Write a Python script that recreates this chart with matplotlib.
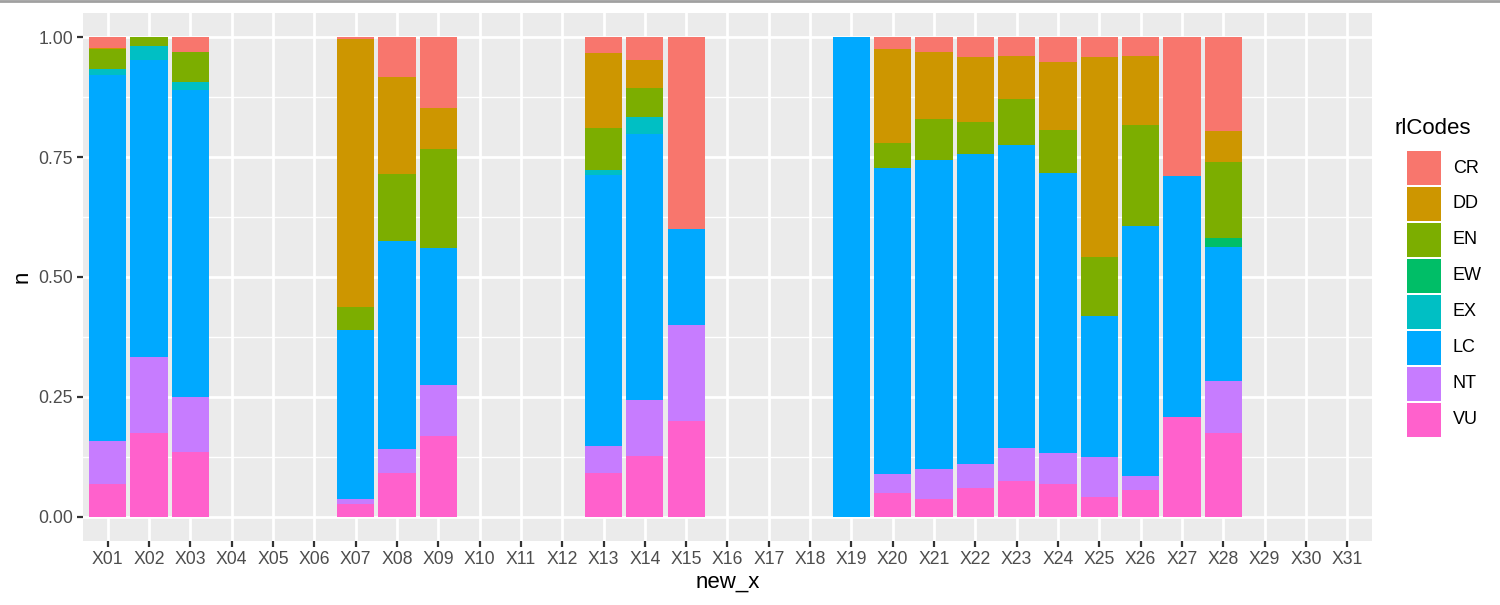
import matplotlib
matplotlib.use("Agg")
import matplotlib.pyplot as plt
import numpy as np
from matplotlib.lines import Line2D
from matplotlib.patches import Rectangle

plt.rcParams["font.family"] = ["Liberation Sans", "DejaVu Sans"]

categories = [f"X{i:02d}" for i in range(1, 32)]
codes = ["CR", "DD", "EN", "EW", "EX", "LC", "NT", "VU"]
colors = ["#F8766D", "#CD9600", "#7CAE00", "#00BE67",
          "#00BFC4", "#00A9FF", "#C77CFF", "#FF61CC"]

# share of each code per category (0 for empty categories)
#          X01   X02   X03  X04 X05 X06  X07   X08   X09  X10 X11 X12  X13   X14   X15  X16 X17 X18 X19  X20   X21   X22   X23   X24   X25   X26   X27   X28  X29 X30 X31
VU = [.069, .174, .135, 0, 0, 0, .027, .091, .169, 0, 0, 0, .091, .128, .201, 0, 0, 0, 0, .049, .037, .060, .074, .069, .041, .056, .209, .174, 0, 0, 0]
NT = [.089, .159, .114, 0, 0, 0, .011, .051, .105, 0, 0, 0, .056, .116, .199, 0, 0, 0, 0, .041, .063, .050, .070, .064, .085, .030, 0, .110, 0, 0, 0]
LC = [.763, .619, .641, 0, 0, 0, .352, .433, .287, 0, 0, 0, .566, .554, .201, 0, 0, 0, 1, .638, .644, .646, .631, .583, .293, .521, .501, .278, 0, 0, 0]
EX = [.012, .030, .016, 0, 0, 0, 0, 0, 0, 0, 0, 0, .009, .036, 0, 0, 0, 0, 0, 0, 0, 0, 0, 0, 0, 0, 0, 0, 0, 0, 0]
EW = [0, 0, 0, 0, 0, 0, 0, 0, 0, 0, 0, 0, 0, 0, 0, 0, 0, 0, 0, 0, 0, 0, 0, 0, 0, 0, 0, .019, 0, 0, 0]
EN = [.041, .018, .063, 0, 0, 0, .047, .140, .205, 0, 0, 0, .088, .059, 0, 0, 0, 0, 0, .052, .085, .066, .095, .090, .122, .210, 0, .158, 0, 0, 0]
DD = [.004, 0, 0, 0, 0, 0, .558, .202, .087, 0, 0, 0, .156, .059, 0, 0, 0, 0, 0, .195, .140, .136, .091, .141, .417, .144, 0, .065, 0, 0, 0]
CR = [.022, 0, .031, 0, 0, 0, .005, .083, .147, 0, 0, 0, .034, .048, .399, 0, 0, 0, 0, .025, .031, .042, .039, .053, .042, .039, .290, .196, 0, 0, 0]

series = {"CR": CR, "DD": DD, "EN": EN, "EW": EW, "EX": EX, "LC": LC, "NT": NT, "VU": VU}

fig = plt.figure(figsize=(15, 6.05), dpi=100)
ax = fig.add_axes([0.0553, 0.1058, 0.9147 - 0.0553, 0.9785 - 0.1058])
ax.set_facecolor("#EBEBEB")

x = np.arange(len(categories))
bottom = np.zeros(len(categories))
# ggplot stacks the last level at the bottom
for code, col in reversed(list(zip(codes, colors))):
    vals = np.array(series[code], dtype=float)
    ax.bar(x, vals, width=0.9, bottom=bottom, color=col, linewidth=0, zorder=3)
    bottom += vals

ax.set_xlim(-0.6, len(categories) - 1 + 0.6)
ax.set_ylim(-0.05, 1.05)
ax.set_xticks(x)
ax.set_xticklabels(categories)
ax.set_yticks([0, 0.25, 0.5, 0.75, 1.0])
ax.set_yticklabels(["0.00", "0.25", "0.50", "0.75", "1.00"])
ax.set_yticks([0.125, 0.375, 0.625, 0.875], minor=True)

ax.grid(which="major", color="white", linewidth=2.0, zorder=1)
ax.grid(which="minor", axis="y", color="white", linewidth=1.0, zorder=1)
ax.tick_params(which="major", colors="#333333", length=4, width=1.6,
               labelsize=12.7, labelcolor="#4D4D4D", pad=3)
ax.tick_params(which="minor", length=0)
for s in ax.spines.values():
    s.set_visible(False)

ax.set_xlabel("new_x", fontsize=16, labelpad=3)
ax.set_ylabel("n", fontsize=16, labelpad=4)

# legend
fig.text(1394 / 1500, 1 - 128 / 605, "rlCodes", fontsize=16, va="center", ha="left")
key_w, key_h = 34, 36
for i, (code, col) in enumerate(zip(codes, colors)):
    top = 150 + i * key_h
    fig.add_artist(Rectangle((1407 / 1500, 1 - (top + key_h - 1) / 605),
                             key_w / 1500, (key_h - 2) / 605,
                             transform=fig.transFigure, facecolor=col,
                             edgecolor="none"))
    fig.text(1453 / 1500, 1 - (top + key_h / 2) / 605, code,
             fontsize=13, va="center", ha="left", color="black")

fig.add_artist(Line2D([0, 1], [0.998, 0.998], transform=fig.transFigure,
                      color="#A0A0A0", linewidth=2))

fig.savefig("out.png", dpi=100)
